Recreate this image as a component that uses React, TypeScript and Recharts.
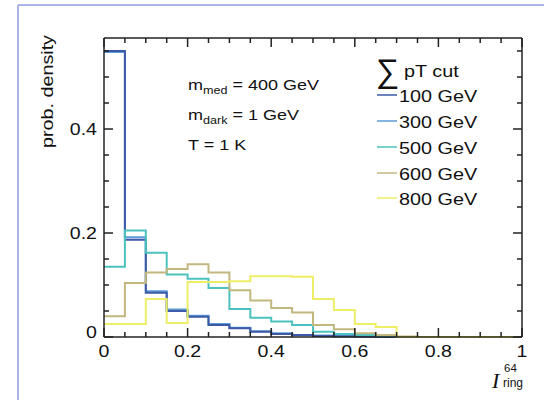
import React from "react";
import { Line, LineChart, XAxis, YAxis } from "recharts";

// bin edges of the histogram (0.05 wide); each series holds one value per bin
const binEdges = [
  0, 0.05, 0.1, 0.15, 0.2, 0.25, 0.3, 0.35, 0.4, 0.45, 0.5, 0.55, 0.6, 0.65, 0.7, 0.75, 0.8, 0.85, 0.9,
  0.95, 1.0,
];
const pt100 = [0.55, 0.187, 0.085, 0.05, 0.039, 0.023, 0.017, 0.01, 0.006, 0.004, 0.002, 0.001, 0.001, 0, 0, 0, 0, 0, 0, 0];
const pt300 = [0.548, 0.192, 0.088, 0.053, 0.041, 0.025, 0.018, 0.011, 0.007, 0.004, 0.003, 0.002, 0.001, 0.001, 0, 0, 0, 0, 0, 0];
const pt500 = [0.135, 0.205, 0.162, 0.12, 0.112, 0.094, 0.054, 0.037, 0.03, 0.023, 0.01, 0.006, 0.004, 0.002, 0, 0, 0, 0, 0, 0];
const pt600 = [0.04, 0.104, 0.124, 0.131, 0.14, 0.124, 0.09, 0.07, 0.056, 0.047, 0.023, 0.015, 0.007, 0.004, 0.001, 0, 0, 0, 0, 0];
const pt800 = [0.025, 0.025, 0.073, 0.027, 0.106, 0.106, 0.107, 0.117, 0.117, 0.116, 0.073, 0.052, 0.025, 0.019, 0, 0, 0, 0, 0, 0];

const seriesNames = ["100 GeV", "300 GeV", "500 GeV", "600 GeV", "800 GeV"];
const seriesColors = ["#3d5aa8", "#5b9bd5", "#4cc2c0", "#c2b77f", "#eeee66"];

const xTicks = binEdges;
const yTicks = [0, 0.05, 0.1, 0.15, 0.2, 0.25, 0.3, 0.35, 0.4, 0.45, 0.5, 0.55];
const xLabels = [0, 0.2, 0.4, 0.6, 0.8, 1];
const yLabels = [0, 0.2, 0.4];

const FONT = "'Liberation Sans', Arial, Helvetica, sans-serif";
const AXIS = "#222";

// repeat the last bin at the right edge so the step closes at x = 1
const data = binEdges.map((x, i) => {
  const j = Math.min(i, pt100.length - 1);
  return { x, p100: pt100[j], p300: pt300[j], p500: pt500[j], p600: pt600[j], p800: pt800[j] };
});

const isLabel = (list: number[], v: number) => list.some((l) => Math.abs(l - v) < 1e-6);

// the original is a bit stretched sideways, so text gets a horizontal scale
function Txt({ x, y, size, anchor = "start", children }: any) {
  return (
    <g transform={`translate(${x},${y}) scale(1.2,1)`}>
      <text x={0} y={0} fontSize={size} textAnchor={anchor} fontFamily={FONT} fill="#111">
        {children}
      </text>
    </g>
  );
}

function BottomTick({ x, y, payload }: any) {
  const major = isLabel(xLabels, payload.value);
  return (
    <g>
      <line x1={x} x2={x} y1={y} y2={y - (major ? 9 : 5)} stroke={AXIS} strokeWidth={1.5} />
      {major && (
        <Txt x={x} y={y + 20} size={16.3} anchor="middle">
          {String(payload.value)}
        </Txt>
      )}
    </g>
  );
}

function TopTick({ x, y, payload }: any) {
  const major = isLabel(xLabels, payload.value);
  return <line x1={x} x2={x} y1={y} y2={y + (major ? 9 : 5)} stroke={AXIS} strokeWidth={1.5} />;
}

function LeftTick({ x, y, payload }: any) {
  const major = isLabel(yLabels, payload.value);
  return (
    <g>
      <line x1={x} x2={x + (major ? 9 : 5)} y1={y} y2={y} stroke={AXIS} strokeWidth={1.5} />
      {major && (
        <Txt x={x - 7} y={payload.value === 0 ? y + 1 : y + 6} size={16.3} anchor="end">
          {String(payload.value)}
        </Txt>
      )}
    </g>
  );
}

function RightTick({ x, y, payload }: any) {
  const major = isLabel(yLabels, payload.value);
  return <line x1={x} x2={x - (major ? 9 : 5)} y1={y} y2={y} stroke={AXIS} strokeWidth={1.5} />;
}

const keys = ["p100", "p300", "p500", "p600", "p800"];
const drawOrder = [1, 0, 2, 3, 4];
const legendY = [95, 121, 147, 173, 198];

export default function App() {
  return (
    <div style={{ position: "absolute", left: 0, top: 0, width: 544, height: 400, background: "#fff" }}>
      <LineChart width={544} height={400} data={data} margin={{ top: 37, right: 21, bottom: 33, left: 44 }}>
        <XAxis
          dataKey="x"
          type="number"
          domain={[0, 1]}
          ticks={xTicks}
          interval={0}
          tickSize={0}
          tickMargin={0}
          height={30}
          axisLine={{ stroke: AXIS, strokeWidth: 1.5 }}
          tick={<BottomTick />}
        />
        <XAxis
          xAxisId="top"
          orientation="top"
          dataKey="x"
          type="number"
          domain={[0, 1]}
          ticks={xTicks}
          interval={0}
          tickSize={0}
          tickMargin={0}
          height={1}
          axisLine={{ stroke: AXIS, strokeWidth: 1.5 }}
          tick={<TopTick />}
        />
        <YAxis
          type="number"
          domain={[0, 0.575]}
          ticks={yTicks}
          interval={0}
          tickSize={0}
          tickMargin={0}
          width={60}
          axisLine={{ stroke: AXIS, strokeWidth: 1.5 }}
          tick={<LeftTick />}
        />
        <YAxis
          yAxisId="right"
          orientation="right"
          type="number"
          domain={[0, 0.575]}
          ticks={yTicks}
          interval={0}
          tickSize={0}
          tickMargin={0}
          width={1}
          axisLine={{ stroke: AXIS, strokeWidth: 1.5 }}
          tick={<RightTick />}
        />
        {drawOrder.map((i) => (
          <Line
            key={keys[i]}
            type="stepAfter"
            dataKey={keys[i]}
            stroke={seriesColors[i]}
            strokeWidth={2}
            dot={false}
            isAnimationActive={false}
          />
        ))}
        {/* invisible series so the mirrored top/right axes get drawn */}
        <Line
          xAxisId="top"
          yAxisId="right"
          dataKey="p800"
          stroke="none"
          dot={false}
          legendType="none"
          isAnimationActive={false}
        />
      </LineChart>

      <svg width={544} height={400} style={{ position: "absolute", left: 0, top: 0, pointerEvents: "none" }}>
        {/* screenshot frame */}
        <line x1={18} x2={18} y1={5} y2={400} stroke="#aab4ea" strokeWidth={2} />
        <line x1={18} x2={544} y1={5} y2={5} stroke="#aab4ea" strokeWidth={2} />

        {/* y title */}
        <text
          transform="translate(53,148) rotate(-90)"
          fontSize={17}
          fontFamily={FONT}
          fill="#111"
          textLength={113}
          lengthAdjust="spacingAndGlyphs"
        >
          prob. density
        </text>

        {/* x title */}
        <text x={492} y={388} fontSize={22} fontStyle="italic" fontFamily="'Liberation Serif', 'Times New Roman', serif" fill="#111">
          I
        </text>
        <text x={504} y={372} fontSize={11.5} fontFamily={FONT} fill="#111">
          64
        </text>
        <text x={503} y={387} fontSize={12} fontFamily={FONT} fill="#111">
          ring
        </text>

        {/* model parameters */}
        <Txt x={188} y={90} size={15}>
          m<tspan fontSize={10.5} dy={4}>med</tspan>
          <tspan dy={-4}> = 400 GeV</tspan>
        </Txt>
        <Txt x={188} y={120} size={15}>
          m<tspan fontSize={10.5} dy={4}>dark</tspan>
          <tspan dy={-4}> = 1 GeV</tspan>
        </Txt>
        <Txt x={188} y={150} size={15}>
          T = 1 K
        </Txt>

        {/* legend */}
        <text x={376} y={82} fontSize={33} fontFamily={FONT} fill="#111">
          ∑
        </text>
        <Txt x={404} y={77} size={16.5}>
          pT cut
        </Txt>
        {seriesNames.map((name, i) => (
          <g key={name}>
            <line x1={377} x2={397} y1={legendY[i]} y2={legendY[i]} stroke={seriesColors[i]} strokeWidth={1.5} />
            <Txt x={399} y={legendY[i] + 6.5} size={16.5}>
              {name}
            </Txt>
          </g>
        ))}
      </svg>
    </div>
  );
}
